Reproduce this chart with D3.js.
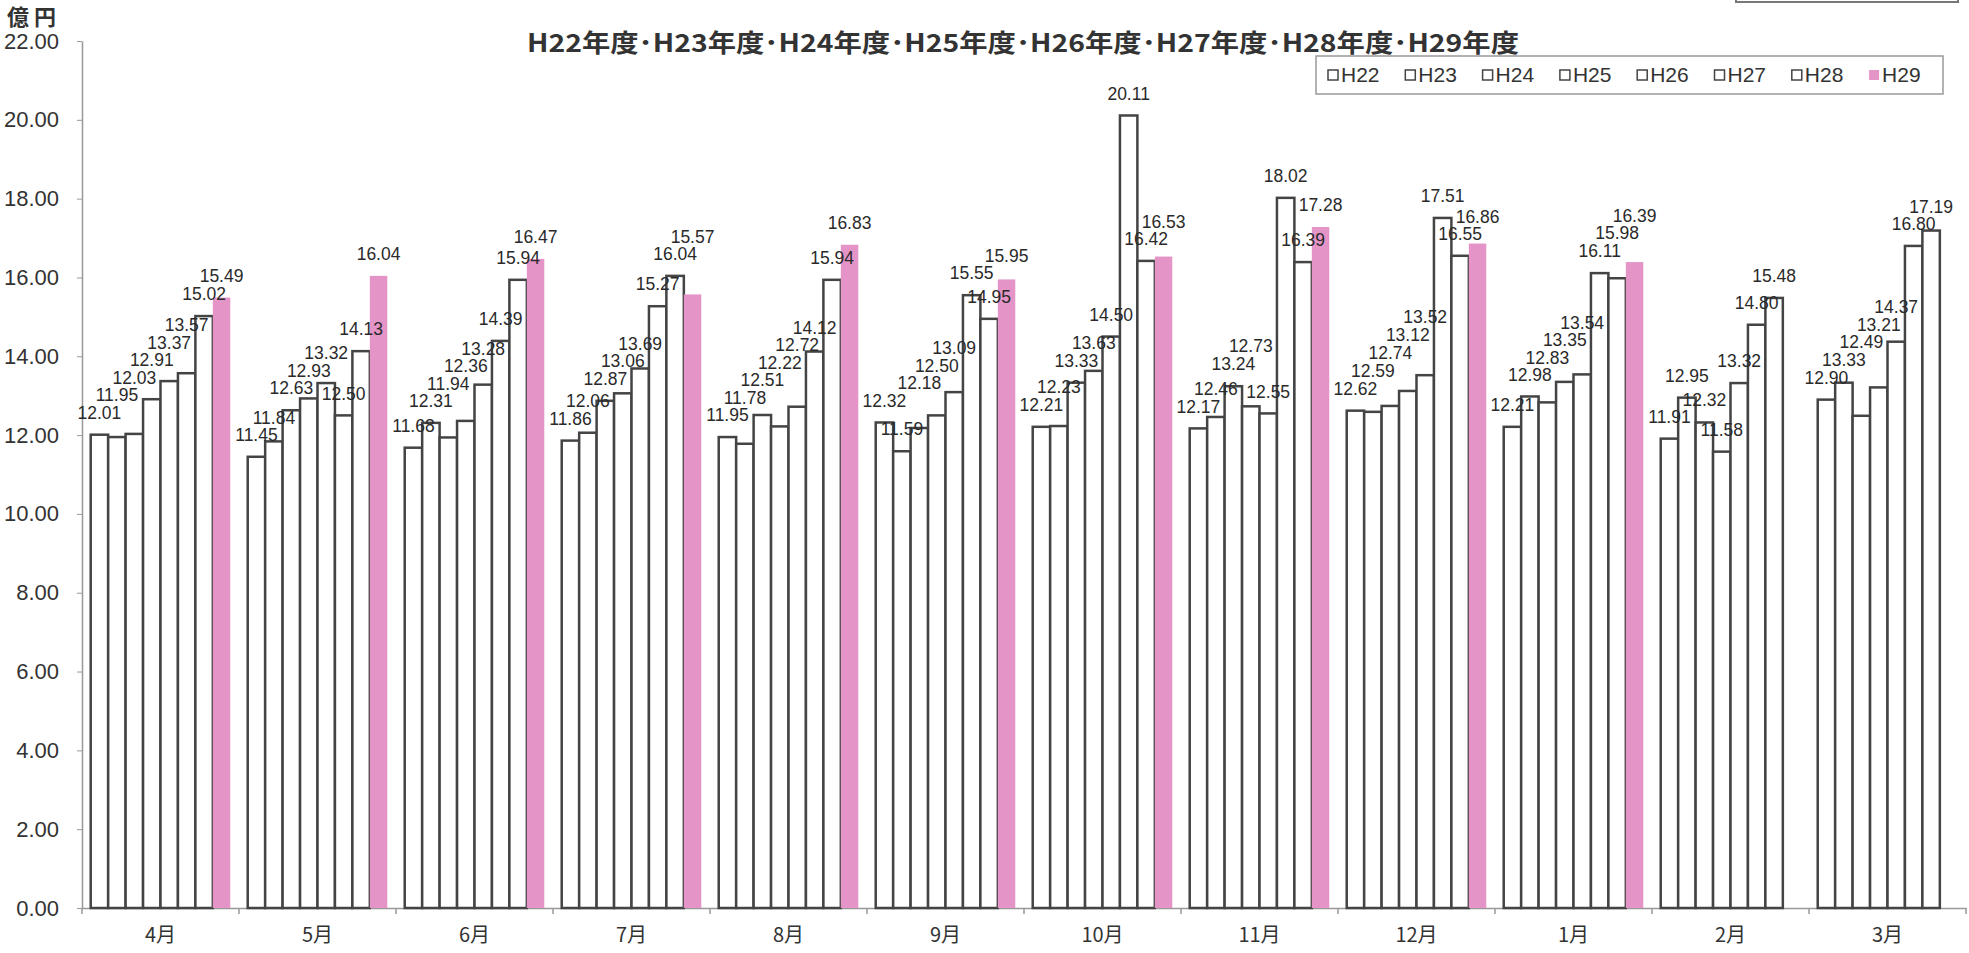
<!DOCTYPE html>
<html>
<head>
<meta charset="utf-8">
<script src="https://cdn.jsdelivr.net/npm/d3@7"></script>
<style>
  body { margin: 0; background: #fff; }
  text { font-family: "Liberation Sans", Arial, sans-serif; }
  .jp { font-family: "Noto Sans CJK JP", sans-serif; }
</style>
</head>
<body>
<svg class="chart" width="1969" height="953"></svg>
<script>
var months = ["4月", "5月", "6月", "7月", "8月", "9月", "10月", "11月", "12月", "1月", "2月", "3月"];
var series = ["H22", "H23", "H24", "H25", "H26", "H27", "H28", "H29"];

var h22 = [12.01, 11.45, 11.68, 11.86, 11.95, 12.32, 12.21, 12.17, 12.62, 12.21, 11.91, 12.90];
var h23 = [11.95, 11.84, 12.31, 12.06, 11.78, 11.59, 12.23, 12.46, 12.59, 12.98, 12.95, 13.33];
var h24 = [12.03, 12.63, 11.94, 12.87, 12.51, 12.18, 13.33, 13.24, 12.74, 12.83, 12.32, 12.49];
var h25 = [12.91, 12.93, 12.36, 13.06, 12.22, 12.50, 13.63, 12.73, 13.12, 13.35, 11.58, 13.21];
var h26 = [13.37, 13.32, 13.28, 13.69, 12.72, 13.09, 14.50, 12.55, 13.52, 13.54, 13.32, 14.37];
var h27 = [13.57, 12.50, 14.39, 15.27, 14.12, 15.55, 20.11, 18.02, 17.51, 16.11, 14.80, 16.80];
var h28 = [15.02, 14.13, 15.94, 16.04, 15.94, 14.95, 16.42, 16.39, 16.55, 15.98, 15.48, 17.19];
var h29 = [15.49, 16.04, 16.47, 15.57, 16.83, 15.95, 16.53, 17.28, 16.86, 16.39, null, null];

var yTicks = [0, 2, 4, 6, 8, 10, 12, 14, 16, 18, 20, 22];

var title = "H22年度･H23年度･H24年度･H25年度･H26年度･H27年度･H28年度･H29年度";
var unit = "億 円";

var values = [h22, h23, h24, h25, h26, h27, h28, h29];
var data = months.map(function (m, i) {
  return {
    month: m,
    bars: series.map(function (s, j) {
      return { key: s, value: values[j][i] };
    }).filter(function (d) { return d.value != null; })
  };
});

var svg = d3.select(".chart"),
  plotL = 82, plotR = 1966, plotT = 41, plotB = 908;

var x0 = d3.scaleBand().domain(months).range([plotL, plotR]);
var x1 = d3.scaleBand().domain(series).range([0, x0.bandwidth()]).paddingOuter(0.5);
var y = d3.scaleLinear().domain([0, 22]).range([plotB, plotT]);
var fill = d3.scaleOrdinal().domain(series).range(["#fff", "#fff", "#fff", "#fff", "#fff", "#fff", "#fff", "#e494c6"]);

// cut-off box at the very top right
svg.append("rect")
  .attr("x", 1736).attr("y", -40).attr("width", 222).attr("height", 42)
  .attr("fill", "none").attr("stroke", "#777").attr("stroke-width", 2);

svg.append("text")
  .attr("class", "jp")
  .attr("x", 7).attr("y", 25)
  .attr("font-size", 22).attr("font-weight", "bold").attr("fill", "#333")
  .text(unit);

svg.append("text")
  .attr("class", "jp")
  .attr("x", 527).attr("y", 52)
  .attr("font-size", 25).attr("font-weight", "bold").attr("fill", "#333")
  .attr("textLength", 992).attr("lengthAdjust", "spacingAndGlyphs")
  .text(title);

// y axis
var yAxis = svg.append("g")
  .attr("transform", "translate(" + plotL + ",0)")
  .call(d3.axisLeft(y).tickValues(yTicks).tickFormat(d3.format(".2f")).tickSize(5).tickSizeOuter(0).tickPadding(18));
yAxis.select(".domain").attr("stroke", "#999").attr("stroke-width", 1.5);
yAxis.selectAll(".tick line").attr("stroke", "#999");
yAxis.selectAll("text").attr("font-size", 22).attr("fill", "#333").attr("font-family", "Liberation Sans, Arial, sans-serif");

// x axis
var xAxis = svg.append("g")
  .attr("transform", "translate(0," + plotB + ")")
  .call(d3.axisBottom(x0).tickSize(0).tickPadding(20));
xAxis.select(".domain").attr("stroke", "#999").attr("stroke-width", 1.5);
xAxis.selectAll("text").attr("class", "jp").attr("font-size", 20).attr("fill", "#333");

svg.append("g")
  .selectAll("line")
  .data(months.concat(["end"]))
  .enter()
  .append("line")
  .attr("x1", function (d) { return d === "end" ? plotR : x0(d); })
  .attr("x2", function (d) { return d === "end" ? plotR : x0(d); })
  .attr("y1", plotB).attr("y2", plotB + 6)
  .attr("stroke", "#999").attr("stroke-width", 1.5);

// bars
var groups = svg.append("g")
  .selectAll("g")
  .data(data)
  .enter()
  .append("g")
  .attr("transform", function (d) { return "translate(" + x0(d.month) + ",0)"; });

groups.selectAll("rect")
  .data(function (d) { return d.bars; })
  .enter()
  .append("rect")
  .attr("x", function (d) { return x1(d.key); })
  .attr("y", function (d) { return y(d.value); })
  .attr("width", x1.bandwidth())
  .attr("height", function (d) { return plotB - y(d.value); })
  .attr("fill", function (d) { return fill(d.key); })
  .attr("stroke", function (d) { return d.key === "H29" ? "none" : "#444"; })
  .attr("stroke-width", 2.5);

// value labels, nudged up when they collide with earlier ones in the group
groups.each(function (g) {
  var placed = [];
  g.bars.forEach(function (d) {
    var cx = x1(d.key) + x1.bandwidth() / 2,
      cy = y(d.value) - 22;
    var hit = true;
    while (hit) {
      hit = placed.some(function (p) {
        return Math.abs(p.x - cx) < 38 && Math.abs(p.y - cy) < 17;
      });
      if (hit) cy -= 1;
    }
    placed.push({ x: cx, y: cy });
    d.lx = cx; d.ly = cy;
  });
});

groups.selectAll("text.val")
  .data(function (d) { return d.bars; })
  .enter()
  .append("text")
  .attr("class", "val")
  .attr("x", function (d) { return d.lx; })
  .attr("y", function (d) { return d.ly; })
  .attr("dy", "0.35em")
  .attr("text-anchor", "middle")
  .attr("font-size", 17.5)
  .attr("fill", "#2a2a2a")
  .text(function (d) { return d.value.toFixed(2); });

// legend
svg.append("rect")
  .attr("x", 1316).attr("y", 56).attr("width", 627).attr("height", 38)
  .attr("fill", "#fff").attr("stroke", "#999").attr("stroke-width", 1.5);

var legend = svg.append("g")
  .selectAll("g")
  .data(series)
  .enter()
  .append("g")
  .attr("transform", function (d, i) { return "translate(" + (1328 + i * 77.3) + ",75)"; });

legend.append("rect")
  .attr("x", 0).attr("y", -5).attr("width", 10).attr("height", 10)
  .attr("fill", fill)
  .attr("stroke", function (d) { return d === "H29" ? "none" : "#444"; })
  .attr("stroke-width", 1.5);

legend.append("text")
  .attr("x", 13).attr("dy", "0.35em")
  .attr("font-size", 21).attr("fill", "#333")
  .text(function (d) { return d; });
</script>
</body>
</html>
